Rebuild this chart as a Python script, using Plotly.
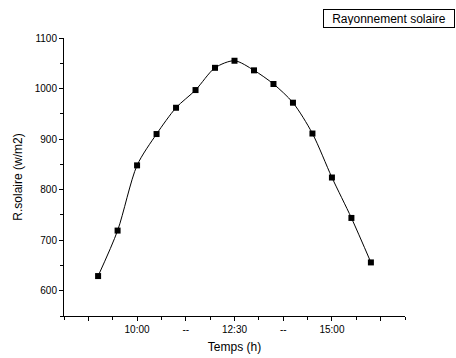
import plotly.graph_objects as go

# Data
hours = [9.0, 9.5, 10.0, 10.5, 11.0, 11.5, 12.0, 12.5, 13.0, 13.5, 14.0, 14.5, 15.0, 15.5, 16.0]
radiation = [629, 719, 848, 910, 962, 997, 1041, 1055, 1036, 1009, 972, 911, 824, 744, 656]
x_tick_vals = [8.75, 10.0, 11.25, 12.5, 13.75, 15.0, 16.25]
x_tick_text = ["", "10:00", "--", "12:30", "--", "15:00", ""]
series_name = "Rayonnement solaire"

font_family = "Liberation Sans, Arial, sans-serif"

fig = go.Figure()
fig.add_trace(go.Scatter(
    x=hours, y=radiation, mode="lines+markers", name=series_name,
    line=dict(color="black", width=1, shape="spline", smoothing=0.8),
    marker=dict(symbol="square", size=6, color="black"),
    showlegend=False,
))

fig.update_layout(
    width=456, height=358,
    margin=dict(l=64, r=51, t=38, b=42, autoexpand=False),
    paper_bgcolor="white", plot_bgcolor="white",
    font=dict(family=font_family, size=10, color="black"),
    xaxis=dict(
        range=[8.125, 16.875], showgrid=False, zeroline=False, automargin=False,
        showline=True, linecolor="black", linewidth=1,
        tickmode="array", tickvals=x_tick_vals, ticktext=x_tick_text,
        ticks="outside", ticklen=4, tickcolor="black", tickwidth=1,
        minor=dict(tickmode="linear", tick0=8.125, dtick=0.625, ticks="outside",
                   ticklen=3, tickcolor="black", tickwidth=1, showgrid=False),
        title=dict(text="Temps (h)", font=dict(size=12), standoff=8),
        tickfont=dict(size=10),
    ),
    yaxis=dict(
        range=[550, 1100], showgrid=False, zeroline=False, automargin=False,
        showline=True, linecolor="black", linewidth=1,
        tickmode="linear", tick0=600, dtick=100,
        ticks="outside", ticklen=4, tickcolor="black", tickwidth=1,
        minor=dict(tickmode="linear", tick0=550, dtick=50, ticks="outside",
                   ticklen=3, tickcolor="black", tickwidth=1, showgrid=False),
        title=dict(text="R.solaire (w/m2)", font=dict(size=12), standoff=9),
        tickfont=dict(size=10),
    ),
    annotations=[dict(
        x=1.0, xref="paper", xanchor="right", xshift=50,
        y=1.0, yref="paper", yanchor="bottom", yshift=10,
        text=series_name, showarrow=False, width=126, height=13, align="center",
        font=dict(size=12, family=font_family, color="black"),
        bordercolor="black", borderwidth=1, borderpad=2, bgcolor="white",
    )],
)

fig.write_html("out.html", config={"displayModeBar": False},
               post_script="document.body.style.margin='0';document.body.style.overflow='hidden';")
